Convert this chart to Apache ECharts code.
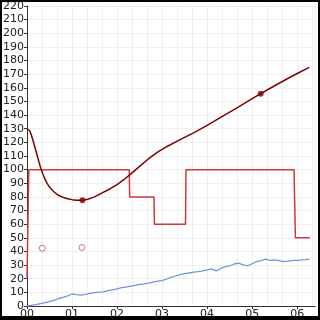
<!DOCTYPE html>
<html><head><meta charset="utf-8">
<script src="https://cdn.jsdelivr.net/npm/echarts@6/dist/echarts.min.js"></script>
<style>
html,body{margin:0;padding:0;background:#fff;}
#c{width:320px;height:320px;position:absolute;left:0;top:0;}
#frame{position:absolute;left:0;top:0;width:320px;height:320px;box-sizing:border-box;border-left:2px solid #000;border-top:2px solid #000;border-right:2px solid #000;border-bottom:4px solid #000;pointer-events:none;}
</style></head>
<body><div id="c"></div><div id="frame"></div>
<script>
// Dark red smooth curve
const curveData = [[0,130],[0.03,130],[0.06,128.5],[0.1,125],[0.15,119.5],[0.2,113.5],[0.25,107.5],[0.3,101.8],[0.35,97],[0.4,93],[0.45,89.7],[0.5,87.2],[0.6,83.6],[0.7,81.2],[0.8,79.7],[0.9,78.6],[1.0,78],[1.1,77.6],[1.23,77.5],[1.35,78.3],[1.5,80],[1.67,83],[1.85,86],[2.0,89],[2.15,92.6],[2.3,96.7],[2.5,102.4],[2.7,108],[2.9,112.8],[3.1,116.8],[3.4,122],[3.7,127],[4.0,132.5],[4.3,138.4],[4.7,146],[5.0,152],[5.19,155.7],[5.5,161.5],[5.8,167],[6.0,170.5],[6.27,175]];
const curveDots = [[1.23,77.5],[5.19,155.7]];
// Red step series
const stepData = [[0,20],[0.04,100],[2.27,100],[2.28,80],[2.82,80],[2.83,60],[3.52,60],[3.53,100],[5.93,100],[5.96,50],[6.28,50]];
// Hollow markers
const hollowPts = [[0.34,42.4],[1.22,42.9]];
// Blue noisy series
const blueData = [[0,0],[0.1,0.5],[0.2,1],[0.3,1.8],[0.4,2.5],[0.5,3.2],[0.6,4.2],[0.7,5.5],[0.8,6.3],[0.9,7.5],[1.0,8.8],[1.1,8.3],[1.2,8.0],[1.3,8.6],[1.4,9.2],[1.5,9.8],[1.6,10.2],[1.7,10.4],[1.8,11.3],[1.9,11.8],[2.0,12.6],[2.1,13.5],[2.2,13.8],[2.3,14.5],[2.4,15.2],[2.5,15.8],[2.6,16.2],[2.7,16.8],[2.8,17.5],[2.9,18.2],[3.0,18.6],[3.1,19.8],[3.2,21.0],[3.3,22.0],[3.4,23.0],[3.5,23.8],[3.6,24.2],[3.7,24.8],[3.8,25.2],[3.9,25.8],[4.0,26.5],[4.1,27.2],[4.2,25.8],[4.3,27.5],[4.4,28.8],[4.5,29.5],[4.6,30.8],[4.7,31.4],[4.8,30.2],[4.9,29.5],[5.0,31.0],[5.1,32.5],[5.2,33.2],[5.3,34.3],[5.4,33.5],[5.5,33.9],[5.6,33.2],[5.7,32.5],[5.8,32.9],[5.9,33.5],[6.0,33.4],[6.1,33.8],[6.2,34.0],[6.27,34.4]];
const xMin = 0, xMax = 6.4, yMin = 0, yMax = 220;

const chart = echarts.init(document.getElementById('c'), null, {renderer:'canvas'});
const gridColor = '#efefef';
chart.setOption({
  animation:false,
  backgroundColor:'#fff',
  grid:{left:24,right:4.8,top:6,bottom:13,containLabel:false},
  xAxis:{type:'value',min:xMin,max:xMax,interval:1,
    axisLine:{lineStyle:{color:'#333',width:1}},
    axisTick:{show:true,length:3,lineStyle:{color:'#333'}},
    axisLabel:{color:'#222',fontSize:11,fontFamily:'DejaVu Sans',margin:3,showMaxLabel:false,
      formatter:v=>String(Math.round(v)).padStart(2,'0')},
    splitLine:{show:true,lineStyle:{color:gridColor,width:1}},
    minorTick:{show:false,splitNumber:3},
    minorSplitLine:{show:true,lineStyle:{color:gridColor,width:1}}
  },
  yAxis:{type:'value',min:yMin,max:yMax,interval:10,
    axisLine:{show:true,lineStyle:{color:'#333',width:1}},
    axisTick:{show:true,length:3,lineStyle:{color:'#333'}},
    axisLabel:{color:'#222',fontSize:11,fontFamily:'DejaVu Sans',margin:3},
    splitLine:{show:true,lineStyle:{color:gridColor,width:1}}
  },
  series:[
    {type:'line',data:blueData,showSymbol:false,lineStyle:{color:'#7095de',width:1.3},z:2},
    {type:'line',data:stepData,showSymbol:false,lineStyle:{color:'#cf3838',width:1.5},z:3},
    {type:'line',data:curveData,smooth:false,showSymbol:false,lineStyle:{color:'#800000',width:1.5,join:'round'},z:4},
    {type:'scatter',data:curveDots,symbol:'circle',symbolSize:6,itemStyle:{color:'#800000'},z:5},
    {type:'scatter',data:hollowPts,symbol:'circle',symbolSize:6,itemStyle:{color:'#fff',borderColor:'#c05050',borderWidth:1},z:5}
  ]
});
</script></body></html>
